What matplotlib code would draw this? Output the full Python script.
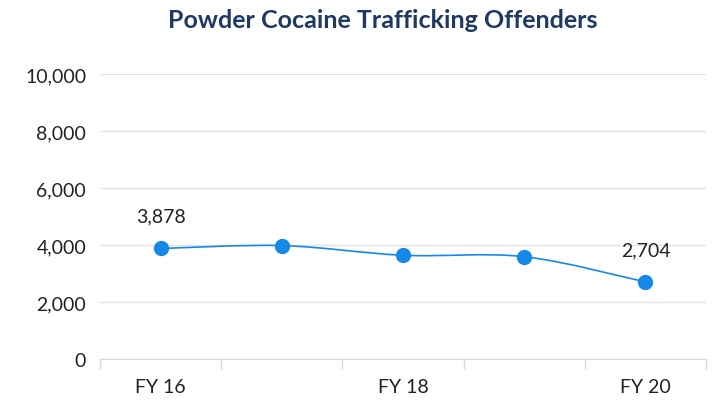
import matplotlib.pyplot as plt
from matplotlib.path import Path
import matplotlib.patches as patches
import numpy as np

years = ["FY 16", "FY 17", "FY 18", "FY 19", "FY 20"]
shown_labels = ["FY 16", "", "FY 18", "", "FY 20"]
offenders = [3878, 3980, 3640, 3590, 2704]
labeled = {0: "3,878", 4: "2,704"}

blue = "#1689e8"
navy = "#1f3864"

plt.rcParams['font.family'] = ['Lato', 'DejaVu Sans']

fig = plt.figure(figsize=(7.14, 4.02), dpi=100)
ax = fig.add_axes([100 / 714, (402 - 360) / 402, 606 / 714, 285 / 402])

x = np.arange(len(years))

# smoothed line like Excel: cubic bezier segments through the points
verts = [(x[0], offenders[0])]
codes = [Path.MOVETO]
t = 1 / 6
for i in range(len(x) - 1):
    p0 = (x[i - 1], offenders[i - 1]) if i > 0 else (x[i], offenders[i])
    p1 = (x[i], offenders[i])
    p2 = (x[i + 1], offenders[i + 1])
    p3 = (x[i + 2], offenders[i + 2]) if i + 2 < len(x) else p2
    c1 = (p1[0] + (p2[0] - p0[0]) * t, p1[1] + (p2[1] - p0[1]) * t)
    c2 = (p2[0] - (p3[0] - p1[0]) * t, p2[1] - (p3[1] - p1[1]) * t)
    verts += [c1, c2, p2]
    codes += [Path.CURVE4] * 3
ax.add_patch(patches.PathPatch(Path(verts, codes), facecolor='none',
                               edgecolor=blue, lw=1.2, zorder=3))
ax.plot(x, offenders, 'o', color=blue, ms=10, zorder=4)

for i, txt in labeled.items():
    ax.annotate(txt, (x[i], offenders[i]), xytext=(0, 17), textcoords='offset points',
                ha='center', va='bottom', fontsize=14, color='#222222')

ax.set_xlim(-0.5, len(years) - 0.5)
ax.set_ylim(0, 10000)
ax.set_yticks(np.arange(0, 10001, 2000))
ax.set_yticklabels([f"{v:,}" for v in range(0, 10001, 2000)])
ax.set_xticks(x)
ax.set_xticklabels(shown_labels)
ax.set_xticks(np.arange(-0.5, len(years), 1), minor=True)
ax.tick_params(axis='x', which='major', length=0, pad=14, labelsize=14, labelcolor='#222222')
ax.tick_params(axis='x', which='minor', length=7, color='#d9d9d9', width=1)
ax.tick_params(axis='y', length=0, pad=10, labelsize=14, labelcolor='#222222')
ax.grid(axis='y', color='#e3e3e3', lw=1)
ax.set_axisbelow(True)
for s in ['top', 'right', 'left']:
    ax.spines[s].set_visible(False)
ax.spines['bottom'].set_color('#d9d9d9')

fig.text(0.536, 0.95, "Powder Cocaine Trafficking Offenders", ha='center', va='center',
         fontsize=18, fontweight='bold', color=navy)

fig.savefig("out.png", dpi=100)
